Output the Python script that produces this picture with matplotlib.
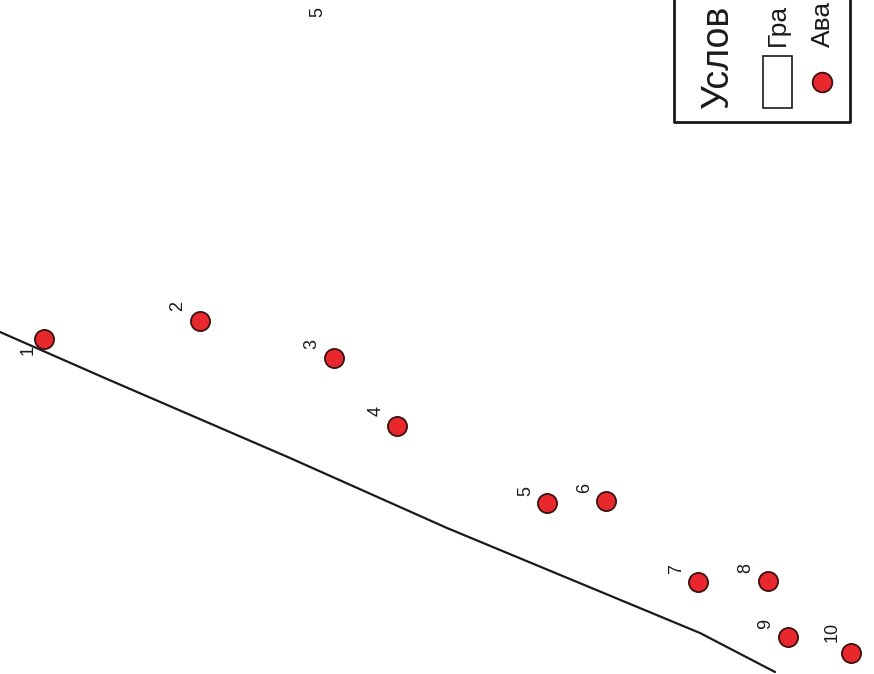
import matplotlib
matplotlib.use("Agg")
import matplotlib.pyplot as plt
from matplotlib.patches import Rectangle

plt.rcParams["font.family"] = ["Liberation Sans", "DejaVu Sans"]

# Map coordinates (image-like units, y downward)
point_ids = ["1", "2", "3", "4", "5", "6", "7", "8", "9", "10"]
point_x = [44, 200, 334, 397, 547, 606, 698, 768, 788, 851]
point_y = [339, 321, 358, 426, 503, 501, 582, 581, 637, 653]
label_x = [28, 178, 312, 376, 526, 585, 677, 746, 766, 832]
label_y = [350, 306, 344, 411, 491, 488, 569, 568, 624, 632]

border_x = [0, 107, 290, 447, 700, 775]
border_y = [332, 379, 458, 528, 633, 672]

extra_label = "5"
extra_x, extra_y = 318, 12

# Legend texts as far as they are visible (cut by the sheet edge)
legend_title = "Услов"
legend_items = ["Гра", "Ава"]

fig = plt.figure(figsize=(8.74, 6.74), dpi=100)
ax = fig.add_axes([0, 0, 1, 1])
ax.set_xlim(0, 874)
ax.set_ylim(674, 0)
ax.axis("off")

ax.plot(border_x, border_y, color="#1a1a1a", lw=1.6, solid_capstyle="round")
ax.scatter(point_x, point_y, s=190, c="#e8282c", edgecolors="#3a1212", linewidths=1.3, zorder=3)

for t, lx, ly in zip(point_ids, label_x, label_y):
    ax.text(lx, ly, t, rotation=90, ha="center", va="center", fontsize=13, color="#1a1a1a")
ax.text(extra_x, extra_y, extra_label, rotation=90, ha="center", va="center", fontsize=13, color="#1a1a1a")

# Legend (rotated, partially cut off at top)
ax.plot([674, 674, 850, 850], [-5, 122, 122, -5], color="#1a1a1a", lw=2.0, clip_on=True)
ax.text(718, 108, legend_title, rotation=90, rotation_mode="anchor", ha="left", va="center",
        fontsize=27, color="#1a1a1a")
ax.add_patch(Rectangle((763, 56), 29, 52, facecolor="white", edgecolor="#1a1a1a", lw=1.2))
ax.text(778, 46, legend_items[0], rotation=90, rotation_mode="anchor", ha="left", va="center",
        fontsize=19, color="#1a1a1a")
ax.scatter([822], [82], s=200, c="#e8282c", edgecolors="#3a1212", linewidths=1.3, zorder=3)
ax.text(823, 47, legend_items[1], rotation=90, rotation_mode="anchor", ha="left", va="center",
        fontsize=19, color="#1a1a1a")

fig.savefig("out.png", dpi=100, facecolor="white")
